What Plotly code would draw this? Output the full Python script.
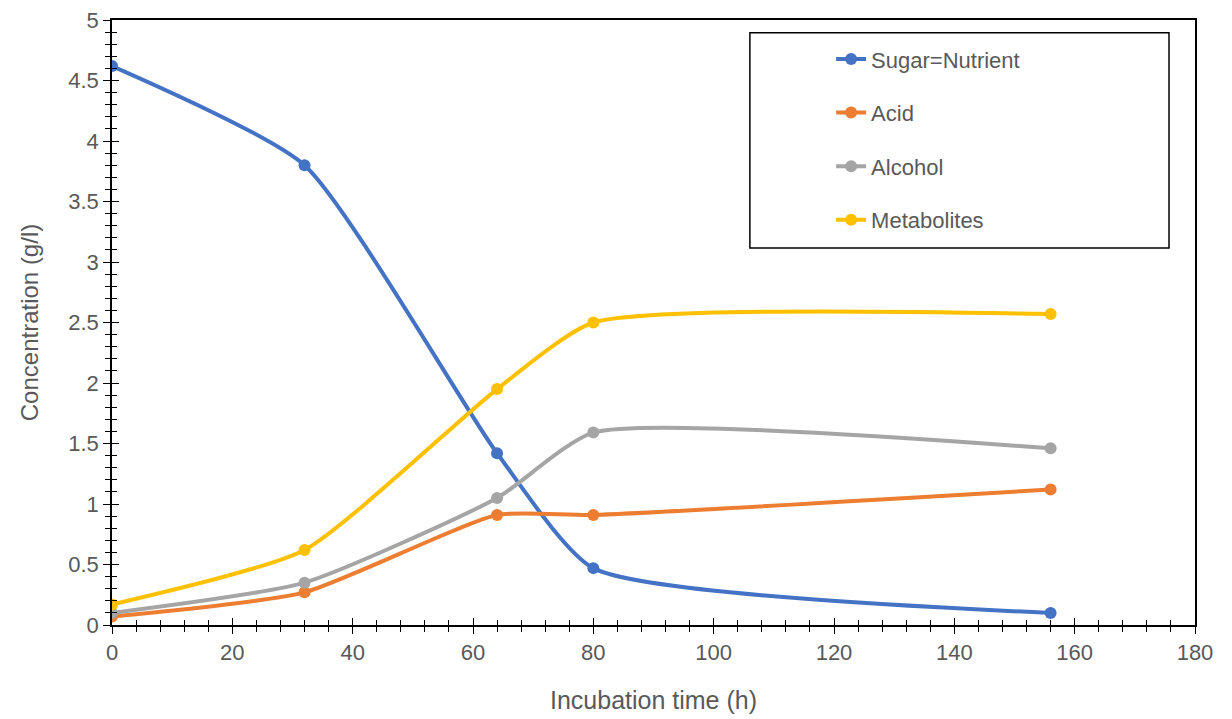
import plotly.graph_objects as go

# incubation times (h)
time_h = [0, 32, 64, 80, 156]

sugar = [4.62, 3.80, 1.42, 0.47, 0.10]
acid = [0.07, 0.27, 0.91, 0.91, 1.12]
alcohol = [0.10, 0.35, 1.05, 1.59, 1.46]
metabolites = [0.17, 0.62, 1.95, 2.50, 2.57]

series_names = ["Sugar=Nutrient", "Acid", "Alcohol", "Metabolites"]
series_values = [sugar, acid, alcohol, metabolites]
series_colors = ["#4472C4", "#ED7D31", "#A5A5A5", "#FFC000"]

fig = go.Figure()
for name, vals, col in zip(series_names, series_values, series_colors):
    fig.add_trace(go.Scatter(
        x=time_h, y=vals, name=name, mode="lines+markers",
        line=dict(color=col, width=4, shape="spline", smoothing=0.55),
        marker=dict(color=col, size=12),
        legendgroup=name,
    ))

# invisible trace so the overlay axes (inner half of the crossing ticks) get drawn
fig.add_trace(go.Scatter(x=time_h, y=sugar, xaxis="x2", yaxis="y2", mode="markers",
                         marker=dict(opacity=0), showlegend=False, hoverinfo="skip"))

grey = "#595959"
fnt = "Liberation Sans, Arial"
axis_common = dict(
    showline=True, linecolor="black", linewidth=1.5, mirror=True,
    showgrid=False, zeroline=False, automargin=False, ticklabeloverflow="allow",
    ticks="outside", ticklen=7, tickcolor="black", tickwidth=1.3,
    tickfont=dict(family=fnt, size=22, color=grey),
)
inner = dict(showline=False, showgrid=False, zeroline=False, showticklabels=False,
             automargin=False, ticks="inside", ticklen=7, tickcolor="black", tickwidth=1.3)

# page has an 8px body margin, so the margins below are shifted to compensate
fig.update_layout(
    width=1232, height=719,
    plot_bgcolor="white", paper_bgcolor="white",
    margin=dict(l=104, r=45, t=12, b=102),
    font=dict(family=fnt, color=grey),
    xaxis=dict(
        range=[0, 180], dtick=20, **axis_common,
        minor=dict(dtick=4, ticks="outside", ticklen=5, tickcolor="black", tickwidth=1),
        title=dict(text="Incubation time (h)", font=dict(size=25, color=grey), standoff=27),
    ),
    yaxis=dict(
        range=[0, 5], dtick=0.5, **axis_common,
        minor=dict(dtick=0.1, ticks="outside", ticklen=5, tickcolor="black", tickwidth=1),
        title=dict(text="Concentration (g/l)", font=dict(size=24, color=grey), standoff=23),
    ),
    xaxis2=dict(overlaying="x", matches="x", range=[0, 180], dtick=20, **inner,
                minor=dict(dtick=4, ticks="inside", ticklen=5, tickcolor="black", tickwidth=1)),
    yaxis2=dict(overlaying="y", matches="y", range=[0, 5], dtick=0.5, **inner,
                minor=dict(dtick=0.1, ticks="inside", ticklen=5, tickcolor="black", tickwidth=1)),
    legend=dict(
        x=0.664, y=0.970, xanchor="left", yanchor="top",
        borderwidth=0, bgcolor="rgba(0,0,0,0)",
        font=dict(family=fnt, size=22, color=grey),
        tracegroupgap=22,
    ),
    shapes=[dict(type="rect", xref="paper", yref="paper",
                 x0=0.589, x1=0.976, y0=0.623, y1=0.979,
                 line=dict(color="black", width=1.5), layer="below")],
)

fig.write_html("out.html")
